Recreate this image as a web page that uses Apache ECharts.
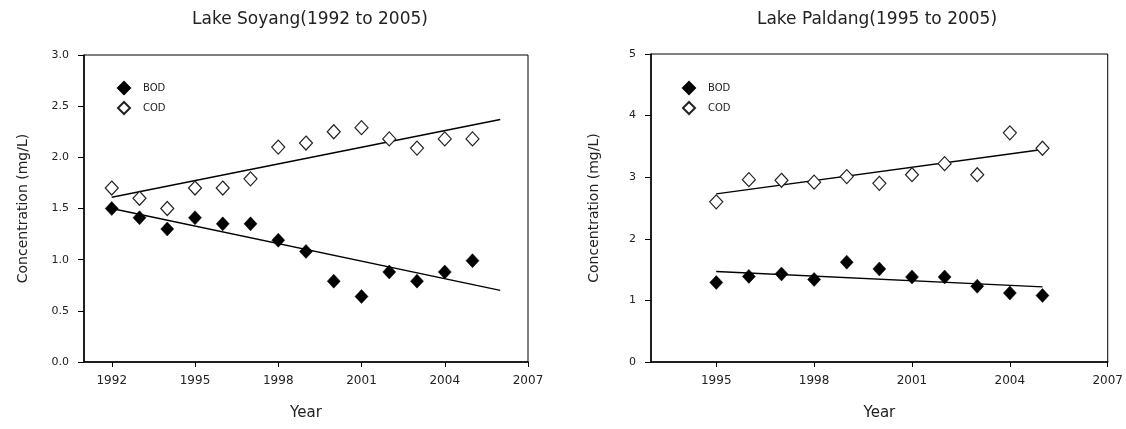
<!DOCTYPE html>
<html>
<head>
<meta charset="utf-8">
<script src="https://cdn.jsdelivr.net/npm/echarts@6/dist/echarts.min.js"></script>
<style>
html,body{margin:0;padding:0;background:#fff;}
#chart{width:1126px;height:429px;}
</style>
</head>
<body>
<div id="chart"></div>
<script>
// ---- Data ----
const soyangYears = [1992,1993,1994,1995,1996,1997,1998,1999,2000,2001,2002,2003,2004,2005];
const soyangBOD  = [1.50,1.41,1.30,1.41,1.35,1.35,1.19,1.08,0.79,0.64,0.88,0.79,0.88,0.99];
const soyangCOD  = [1.70,1.60,1.50,1.70,1.70,1.79,2.10,2.14,2.25,2.29,2.18,2.09,2.18,2.18];
const soyangBODTrend = [[1992,1.50],[2006,0.70]];
const soyangCODTrend = [[1992,1.61],[2006,2.37]];

const paldangYears = [1995,1996,1997,1998,1999,2000,2001,2002,2003,2004,2005];
const paldangBOD  = [1.29,1.39,1.43,1.34,1.62,1.51,1.38,1.38,1.23,1.12,1.08];
const paldangCOD  = [2.60,2.96,2.95,2.92,3.01,2.90,3.04,3.22,3.04,3.72,3.47];
const paldangBODTrend = [[1995,1.47],[2005,1.22]];
const paldangCODTrend = [[1995,2.73],[2005,3.45]];

const soyangXTicks = [1992,1995,1998,2001,2004,2007];
const paldangXTicks = [1995,1998,2001,2004,2007];

const titles = ['Lake Soyang(1992 to 2005)', 'Lake Paldang(1995 to 2005)'];
const xName = 'Year';
const yName = 'Concentration (mg/L)';
const legendNames = ['BOD','COD'];

// ---- Chart ----
const pair = (xs, ys) => xs.map((x,i)=>[x, ys[i]]);
const FONT = 'DejaVu Sans';
const txt = {color:'#222', fontFamily: FONT};

function xAxis(gi, min, ticks){
  return {
    type:'value', gridIndex:gi, min:min, max:2007,
    name:xName, nameLocation:'middle', nameGap:44,
    nameTextStyle:Object.assign({fontSize:15}, txt),
    axisLine:{show:true, onZero:false, lineStyle:{color:'#000', width:1.5}},
    axisTick:{show:true, inside:false, length:5, customValues:ticks, lineStyle:{color:'#000'}},
    axisLabel:Object.assign({fontSize:12, margin:13, customValues:ticks, formatter:v=>String(v)}, txt),
    splitLine:{show:false}
  };
}
function yAxis(gi, max, interval, dec, gap){
  return {
    type:'value', gridIndex:gi, min:0, max:max, interval:interval,
    name:yName, nameLocation:'middle', nameGap:gap,
    nameTextStyle:Object.assign({fontSize:14}, txt),
    axisLine:{show:true, lineStyle:{color:'#000', width:1.5}},
    axisTick:{show:true, inside:false, length:6, lineStyle:{color:'#000'}},
    axisLabel:Object.assign({fontSize:11, margin:15, formatter:v=>v.toFixed(dec)}, txt),
    splitLine:{show:false}
  };
}
function scatter(name, gi, data, filled){
  return {
    type:'scatter', name:name, xAxisIndex:gi, yAxisIndex:gi, data:data,
    symbol:'diamond', symbolSize:[13,14],
    itemStyle: filled ? {color:'#000', borderColor:'#000', borderWidth:0.5, opacity:1}
                      : {color:'#fff', borderColor:'#222', borderWidth:1.2, opacity:1},
    z:3
  };
}
function trend(name, gi, data){
  return {
    type:'line', name:name, xAxisIndex:gi, yAxisIndex:gi, data:data,
    showSymbol:false, symbol:'none', lineStyle:{color:'#000', width:1.4},
    silent:true, z:2
  };
}
function legend(left, top){
  return {
    left:left, top:top, orient:'vertical', itemWidth:12, itemHeight:12, itemGap:6,
    data:legendNames.map(n=>({name:n})),
    textStyle:Object.assign({fontSize:10, padding:[0,0,0,8]}, txt),
    selectedMode:false
  };
}

const chart = echarts.init(document.getElementById('chart'), null, {renderer:'canvas'});
chart.setOption({
  backgroundColor:'#fff',
  animation:false,
  title:[
    {text:titles[0], left:305, top:6, textAlign:'center', textStyle:Object.assign({fontSize:17, fontWeight:'normal'}, txt)},
    {text:titles[1], left:872, top:6, textAlign:'center', textStyle:Object.assign({fontSize:17, fontWeight:'normal'}, txt)}
  ],
  legend:[legend(112, 76), legend(677, 76)],
  grid:[
    {left:84, right:598, top:55, bottom:67, show:true, borderColor:'#000', borderWidth:1, containLabel:false},
    {left:651, right:18, top:54, bottom:67, show:true, borderColor:'#000', borderWidth:1, containLabel:false}
  ],
  xAxis:[xAxis(0, 1991, soyangXTicks), xAxis(1, 1993, paldangXTicks)],
  yAxis:[yAxis(0, 3, 0.5, 1, 54), yAxis(1, 5, 1, 0, 50)],
  series:[
    trend('BOD trend', 0, soyangBODTrend),
    trend('COD trend', 0, soyangCODTrend),
    scatter('BOD', 0, pair(soyangYears, soyangBOD), true),
    scatter('COD', 0, pair(soyangYears, soyangCOD), false),
    trend('BOD trend', 1, paldangBODTrend),
    trend('COD trend', 1, paldangCODTrend),
    scatter('BOD', 1, pair(paldangYears, paldangBOD), true),
    scatter('COD', 1, pair(paldangYears, paldangCOD), false)
  ]
});
</script>
</body>
</html>
